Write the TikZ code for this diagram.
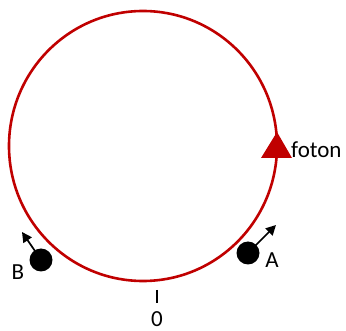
\documentclass[tikz,border=0pt]{standalone}
\usepackage{fontspec}
\setmainfont{Carlito}
\usetikzlibrary{arrows.meta,positioning}
\definecolor{ring}{RGB}{192,0,0}

\begin{document}
\begin{tikzpicture}[x=1pt,y=-1pt,font=\fontsize{23}{27}\selectfont,
  particle/.style={circle,fill=black,minimum size=23pt,inner sep=0pt},
  spin/.style={-{Triangle[length=10pt,width=10pt]},line width=1.7pt},
  lbl/.style={inner sep=0pt}]
  \useasboundingbox (0,0) rectangle (346,331);
  % ---------------- ring and photon ----------------
  \draw[ring,line width=2.6pt] (143,146) ellipse [x radius=134,y radius=135];
  \fill[ring] (261,158) -- (292,158) -- (277,132) -- cycle;
  \node[lbl,anchor=west] (foton) at (291,150) {foton};
  % ---------------- particles ----------------
  \node[particle] (B) at (41,260) {};
  \coordinate (Btip) at (22,232);
  \coordinate (Bfoot) at (35,251);
  \draw[spin] (Bfoot) -- (Btip);
  \node[lbl] (Blbl) at (18,272) {B};
  \node[particle] (A) at (248,253) {};
  \coordinate (Atip) at (276,225);
  \coordinate (Afoot) at (255,246);
  \draw[spin] (Afoot) -- (Atip);
  \node[lbl] (Albl) at (272,260) {A};
  % ---------------- origin mark ----------------
  \coordinate (zerotop) at (157,290);
  \coordinate (zerobot) at (157,303);
  \draw[line width=1.2pt] (zerotop) -- (zerobot);
  \node[lbl] (zero) at (157,319) {0};
\end{tikzpicture}
\end{document}
